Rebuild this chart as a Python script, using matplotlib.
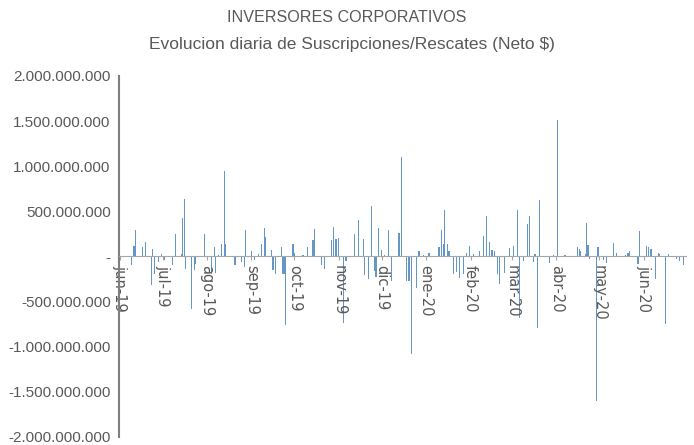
import numpy as np
import pandas as pd
import matplotlib
matplotlib.use('Agg')
import matplotlib.pyplot as plt

# datos diarios (neto en millones de $)
fechas = ['2019-06-01', '2019-06-09', '2019-06-11', '2019-06-12', '2019-06-17', '2019-06-19',
          '2019-06-23', '2019-06-24', '2019-06-25', '2019-06-28', '2019-06-30', '2019-07-02',
          '2019-07-08', '2019-07-10', '2019-07-14', '2019-07-15', '2019-07-16', '2019-07-17',
          '2019-07-21', '2019-07-23', '2019-07-24', '2019-07-30', '2019-08-01', '2019-08-04',
          '2019-08-06', '2019-08-07', '2019-08-09', '2019-08-11', '2019-08-13', '2019-08-14',
          '2019-08-20', '2019-08-21', '2019-08-25', '2019-08-27', '2019-08-28', '2019-09-01',
          '2019-09-03', '2019-09-06', '2019-09-08', '2019-09-10', '2019-09-11', '2019-09-15',
          '2019-09-16', '2019-09-18', '2019-09-22', '2019-09-23', '2019-09-24', '2019-09-25',
          '2019-09-30', '2019-10-01', '2019-10-07', '2019-10-10', '2019-10-14', '2019-10-15',
          '2019-10-20', '2019-10-22', '2019-10-27', '2019-10-28', '2019-10-30', '2019-11-01',
          '2019-11-04', '2019-11-06', '2019-11-12', '2019-11-15', '2019-11-18', '2019-11-19',
          '2019-11-22', '2019-11-24', '2019-11-26', '2019-11-27', '2019-11-29', '2019-12-01',
          '2019-12-03', '2019-12-06', '2019-12-08', '2019-12-13', '2019-12-15', '2019-12-18',
          '2019-12-20', '2019-12-22', '2019-12-25', '2019-12-27', '2019-12-30', '2020-01-03',
          '2020-01-10', '2020-01-12', '2020-01-13', '2020-01-14', '2020-01-16', '2020-01-17',
          '2020-01-20', '2020-01-22', '2020-01-24', '2020-01-27', '2020-01-29', '2020-01-31',
          '2020-02-03', '2020-02-07', '2020-02-10', '2020-02-12', '2020-02-14', '2020-02-16',
          '2020-02-18', '2020-02-20', '2020-02-21', '2020-02-25', '2020-02-28', '2020-03-02',
          '2020-03-05', '2020-03-06', '2020-03-09', '2020-03-12', '2020-03-13', '2020-03-16',
          '2020-03-17', '2020-03-19', '2020-03-20', '2020-03-27', '2020-03-30', '2020-04-02',
          '2020-04-07', '2020-04-12', '2020-04-16', '2020-04-17', '2020-04-18', '2020-04-21',
          '2020-04-22', '2020-04-23', '2020-04-24', '2020-04-29', '2020-04-30', '2020-05-04',
          '2020-05-06', '2020-05-11', '2020-05-13', '2020-05-19', '2020-05-21', '2020-05-22',
          '2020-05-28', '2020-05-29', '2020-06-03', '2020-06-04', '2020-06-06', '2020-06-09',
          '2020-06-11', '2020-06-12', '2020-06-16', '2020-06-18', '2020-06-24', '2020-06-26',
          '2020-06-29']
neto_millones = [155, -90, 120, 290, 110, 155,
                 -320, 80, -200, -60, 30, -40,
                 -90, 245, 30, 430, 640, -140,
                 -580, -155, -80, 245, -30, -200,
                 110, -180, 20, 135, 950, 135,
                 -100, -90, -60, -120, 290, 65,
                 -40, 30, 135, 310, 210, 70,
                 -155, -200, 100, -200, -200, -760,
                 135, 40, 20, 110, 180, 300,
                 -90, -140, 180, 330, 190, 200,
                 -740, -50, 245, 400, 190, -210,
                 -250, 555, -160, -230, 310, 70,
                 20, 290, -270, 255, 1100, -270,
                 -270, -1080, -345, 65, 20, 40,
                 110, 290, 140, 510, 135, 60,
                 -200, -170, -235, -200, 40, 120,
                 30, 65, 230, 450, 165, 70,
                 55, -200, -310, -180, 90, 120,
                 510, -680, -50, 360, 450, -60,
                 30, -790, 630, -70, 15, 1510,
                 20, 10, 110, 80, 55, 30,
                 370, 130, -30, -1600, 110, -40,
                 -70, 145, 40, 20, 40, 60,
                 -80, 280, 120, 100, 80, -250,
                 40, 30, -750, 30, -30, -50,
                 -100]

meses = ['jun-19', 'jul-19', 'ago-19', 'sep-19', 'oct-19', 'nov-19', 'dic-19',
         'ene-20', 'feb-20', 'mar-20', 'abr-20', 'may-20', 'jun-20']

x = pd.to_datetime(fechas)
y = np.array(neto_millones) * 1e6

fig = plt.figure(figsize=(6.94, 4.45), dpi=100)
ax = fig.add_axes([0.1715, 0.0180, 0.817, 0.8115])

ax.bar(x, y, width=0.8, color='#6497C6', linewidth=0)

ax.set_xlim(pd.Timestamp('2019-05-31 12:00'), pd.Timestamp('2020-06-30 12:00'))
ax.set_ylim(-2e9, 2e9)

ax.tick_params(axis='x', labelrotation=-90, length=3, color='#A6A6A6', pad=3,
               labelcolor='#595959', labelsize=10.5)
ax.tick_params(axis='y', length=0, pad=6, labelcolor='#595959', labelsize=11)

ticks = pd.date_range('2019-06-01', '2020-06-01', freq='MS')
ax.set_xticks(ticks)
ax.set_xticklabels(meses, family=['Liberation Sans', 'DejaVu Sans'])

yt = np.arange(-2e9, 2.01e9, 5e8)
ax.set_yticks(yt)
ylab = ['-' if v == 0 else f'{v:,.0f}'.replace(',', '.') for v in yt]
ax.set_yticklabels(ylab, family=['Liberation Sans', 'DejaVu Sans'])

ax.spines['top'].set_visible(False)
ax.spines['right'].set_visible(False)
ax.spines['bottom'].set_position(('data', 0))
ax.spines['bottom'].set_color('#A6A6A6')
ax.spines['left'].set_color('#7F7F7F')
ax.spines['left'].set_linewidth(1.5)

fig.text(0.5, 1 - 18 / 445, 'INVERSORES CORPORATIVOS', ha='center', va='center',
         fontsize=11.6, color='#595959', family=['Liberation Sans Narrow', 'Liberation Sans', 'DejaVu Sans'])
fig.text(0.507, 1 - 45 / 445, 'Evolucion diaria de Suscripciones/Rescates (Neto $)', ha='center', va='center',
         fontsize=12.5, color='#595959', family=['Liberation Sans Narrow', 'Liberation Sans', 'DejaVu Sans'])

fig.savefig('out.png', dpi=100)
plt.close()
